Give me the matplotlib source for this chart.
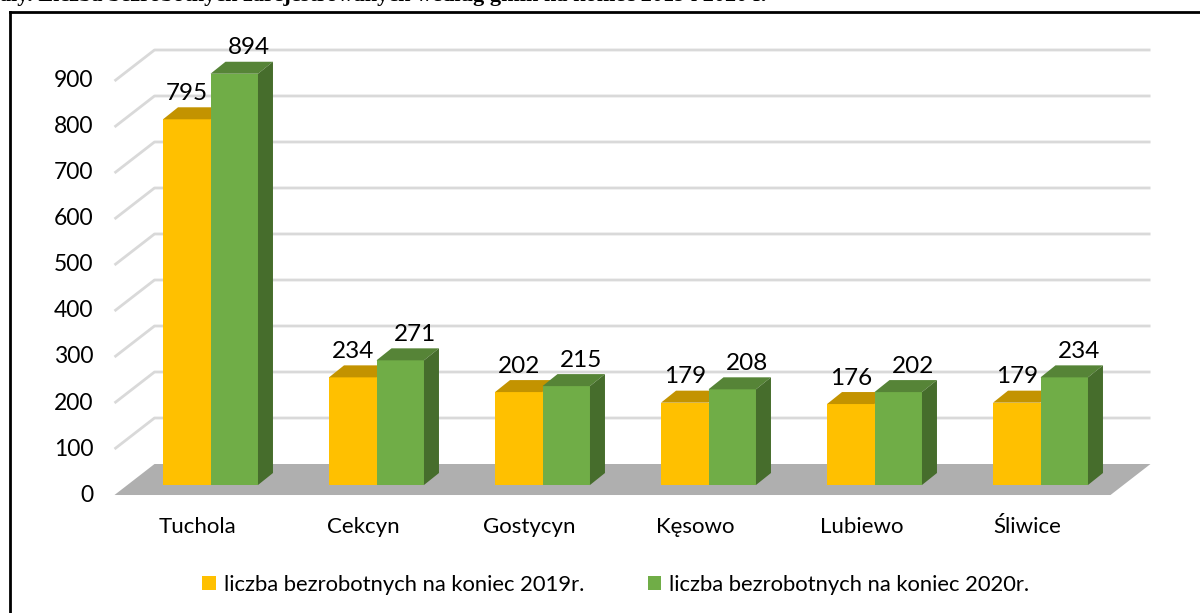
import numpy as np
import matplotlib.pyplot as plt
from matplotlib.patches import Polygon, Patch
from matplotlib.lines import Line2D

gminy = ["Tuchola", "Cekcyn", "Gostycyn", "Kęsowo", "Lubiewo", "Śliwice"]
bezrobotni_2019 = [795, 234, 202, 179, 176, 179]
bezrobotni_2020 = [894, 271, 215, 208, 202, 234]
etykiety = ["liczba bezrobotnych na koniec 2019r.", "liczba bezrobotnych na koniec 2020r."]
y_ticks = [0, 100, 200, 300, 400, 500, 600, 700, 800, 900]

plt.rcParams['font.family'] = ['Lato', 'DejaVu Sans']

ZOLTY, ZOLTY_GORA = "#FFC000", "#C39300"
ZIELONY, ZIELONY_GORA, ZIELONY_BOK = "#70AD47", "#568437", "#466D2C"
SIATKA, PODLOGA = "#D9D9D9", "#AFAFAF"

fig = plt.figure(figsize=(12, 6.13), dpi=100)
ax = fig.add_axes([0.10625, 0.2088, 0.83, 0.6754])
ax.set_xlim(-0.5, 5.5)
ax.set_ylim(0, 900)
ax.axis("off")

# przesunięcia perspektywy w pikselach
GLEBIA = (15, 12)      # grubość słupka
PRZOD = (-13, -10)     # przednia krawędź podłogi
TYL = (27, 21)         # tylna ściana


def przesun(x, y, d):
    px, py = ax.transData.transform((x, y))
    return ax.transData.inverted().transform((px + d[0], py + d[1]))


# podłoga
podloga = [przesun(-0.5, 0, PRZOD), przesun(5.5, 0, PRZOD),
           przesun(5.5, 0, TYL), przesun(-0.5, 0, TYL)]
ax.add_patch(Polygon(podloga, closed=True, facecolor=PODLOGA, edgecolor="none",
                     zorder=1, clip_on=False))

# linie siatki
for v in y_ticks[1:]:
    a = przesun(-0.5, v, PRZOD)
    b = przesun(-0.5, v, TYL)
    c = przesun(5.5, v, TYL)
    ax.plot([a[0], b[0], c[0]], [a[1], b[1], c[1]], color=SIATKA, lw=2,
            zorder=0.5, clip_on=False, solid_capstyle="butt")

# etykiety osi y
for v in y_ticks:
    x, y = przesun(-0.5, v, (PRZOD[0] - 21, PRZOD[1]))
    ax.text(x, y, str(v), ha="right", va="center", fontsize=16.5, color="#000000")

x = np.arange(len(gminy))
w = 0.286

for i in range(len(gminy)):
    for x0, v, kol, gora, bok in [(x[i] - w, bezrobotni_2019[i], ZOLTY, ZOLTY_GORA, None),
                                  (x[i], bezrobotni_2020[i], ZIELONY, ZIELONY_GORA, ZIELONY_BOK)]:
        x1 = x0 + w
        ax.bar(x0, v, width=w, align="edge", color=kol, zorder=2, linewidth=0)
        top = [(x0, v), (x1, v), przesun(x1, v, GLEBIA), przesun(x0, v, GLEBIA)]
        ax.add_patch(Polygon(top, closed=True, facecolor=gora, edgecolor="none",
                             zorder=2, clip_on=False))
        if bok:
            side = [(x1, 0), (x1, v), przesun(x1, v, GLEBIA), przesun(x1, 0, GLEBIA)]
            ax.add_patch(Polygon(side, closed=True, facecolor=bok, edgecolor="none",
                                 zorder=2, clip_on=False))

# etykiety wartości
for i in range(len(gminy)):
    xa, ya = przesun(x[i] - w / 2, bezrobotni_2019[i], (0, 26))
    ax.text(xa, ya, str(bezrobotni_2019[i]), ha="center", va="center", fontsize=17.5, zorder=5)
    xb, yb = przesun(x[i] + w / 2, bezrobotni_2020[i], (15, 26))
    ax.text(xb, yb, str(bezrobotni_2020[i]), ha="center", va="center", fontsize=17.5, zorder=5)

# etykiety kategorii
for i, g in enumerate(gminy):
    xl, yl = przesun(x[i], 0, (PRZOD[0], PRZOD[1] - 32))
    ax.text(xl, yl, g, ha="center", va="center", fontsize=16)

uchwyty = [Patch(facecolor=ZOLTY), Patch(facecolor=ZIELONY)]
fig.legend(uchwyty, etykiety, loc="center", bbox_to_anchor=(0.513, 0.0457), ncol=2,
           frameon=False, fontsize=15.8, handlelength=0.62, handleheight=0.62,
           handletextpad=0.35, columnspacing=2.9)

# ramka
fig.add_artist(Line2D([10 / 1200, 10 / 1200], [0, 1 - 12 / 613], color="black", lw=2))
fig.add_artist(Line2D([10 / 1200, 1], [1 - 12 / 613, 1 - 12 / 613], color="black", lw=2))

# ucięty tytuł nad wykresem
fig.text(0.0, 1 - 1 / 613,
         "ały. Liczba bezrobotnych zarejestrowanych według gmin na koniec 2019 i 2020 r.",
         ha="left", va="baseline", fontsize=16, fontweight="bold",
         family=["Liberation Serif", "DejaVu Serif"])

fig.savefig("out.png", dpi=100)
